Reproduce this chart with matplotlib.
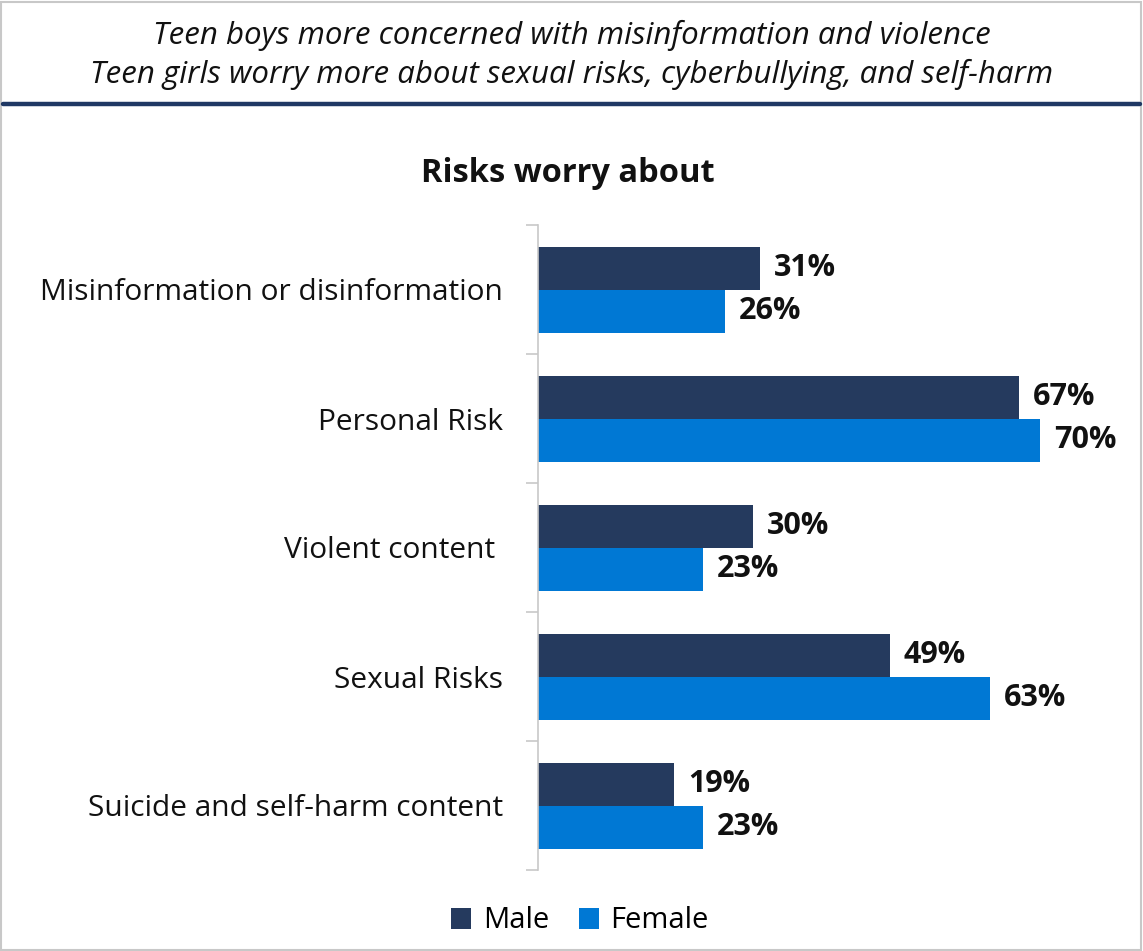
import matplotlib
matplotlib.use("Agg")
import matplotlib.pyplot as plt
from matplotlib.patches import Patch, Rectangle
from matplotlib.lines import Line2D

categories = [
    "Misinformation or disinformation",
    "Personal Risk",
    "Violent content ",
    "Sexual Risks",
    "Suicide and self-harm content",
]
male = [31, 67, 30, 49, 19]
female = [26, 70, 23, 63, 23]
series_names = ["Male", "Female"]

header_lines = [
    "Teen boys more concerned with misinformation and violence",
    "Teen girls worry more about sexual risks, cyberbullying, and self-harm",
]
chart_title = "Risks worry about"

MALE_COLOR = "#253A5E"
FEMALE_COLOR = "#0078D4"
FONT = ["Open Sans", "DejaVu Sans"]

plt.rcParams["font.family"] = FONT

W, H = 1143, 951
fig = plt.figure(figsize=(W / 100, H / 100), dpi=100)

# outer frame
fig.add_artist(Rectangle((0.001, 0.001), 0.997, 0.997, transform=fig.transFigure,
                         fill=False, edgecolor="#C8C8C8", linewidth=1.5))

# header text and rule
fig.text(0.5, 1 - 35 / H, header_lines[0], ha="center", va="center",
         fontsize=22.5, style="italic", color="#111111")
fig.text(0.5, 1 - 74 / H, header_lines[1], ha="center", va="center",
         fontsize=22.5, style="italic", color="#111111")
fig.add_artist(Line2D([3 / W, 1140 / W], [1 - 104 / H, 1 - 104 / H],
                      transform=fig.transFigure, color="#1F3864", linewidth=3.2,
                      solid_capstyle="round"))

fig.text(568 / W, 1 - 173 / H, chart_title, ha="center", va="center",
         fontsize=23.5, fontweight="bold", color="#111111")

left, right = 538 / W, 1112 / W
top, bottom = 1 - 225 / H, 1 - 870 / H
ax = fig.add_axes([left, bottom, right - left, top - bottom])

n = len(categories)
pos = list(range(n))
h = 1 / 3
male_bars = ax.barh([p - h / 2 for p in pos], male, height=h, color=MALE_COLOR)
female_bars = ax.barh([p + h / 2 for p in pos], female, height=h, color=FEMALE_COLOR)

for bars, vals in ((male_bars, male), (female_bars, female)):
    for b, v in zip(bars, vals):
        ax.annotate(f"{v}%", (v, b.get_y() + b.get_height() / 2),
                    xytext=(10, 0), textcoords="offset points",
                    ha="left", va="center", fontsize=22, fontweight="bold",
                    color="#111111")

ax.set_xlim(0, 80)
ax.set_ylim(n - 0.5, -0.5)
ax.set_xticks([])
ax.set_yticks(pos)
ax.set_yticklabels(categories, fontsize=21.5, color="#111111")
ax.tick_params(axis="y", which="major", length=0, pad=25)
ax.set_yticks([p - 0.5 for p in range(n + 1)], minor=True)
ax.tick_params(axis="y", which="minor", length=9, width=1.2, color="#C8C8C8",
               direction="out")
for s in ("top", "right", "bottom"):
    ax.spines[s].set_visible(False)
ax.spines["left"].set_color("#C8C8C8")
ax.spines["left"].set_linewidth(1.2)

handles = [Patch(facecolor=MALE_COLOR), Patch(facecolor=FEMALE_COLOR)]
fig.legend(handles, series_names, loc="center", bbox_to_anchor=(580 / W, 1 - 921 / H),
           ncol=2, frameon=False, fontsize=21, handlelength=0.7, handleheight=0.7,
           handletextpad=0.4, columnspacing=1.0)

fig.savefig("out.png", dpi=100)
